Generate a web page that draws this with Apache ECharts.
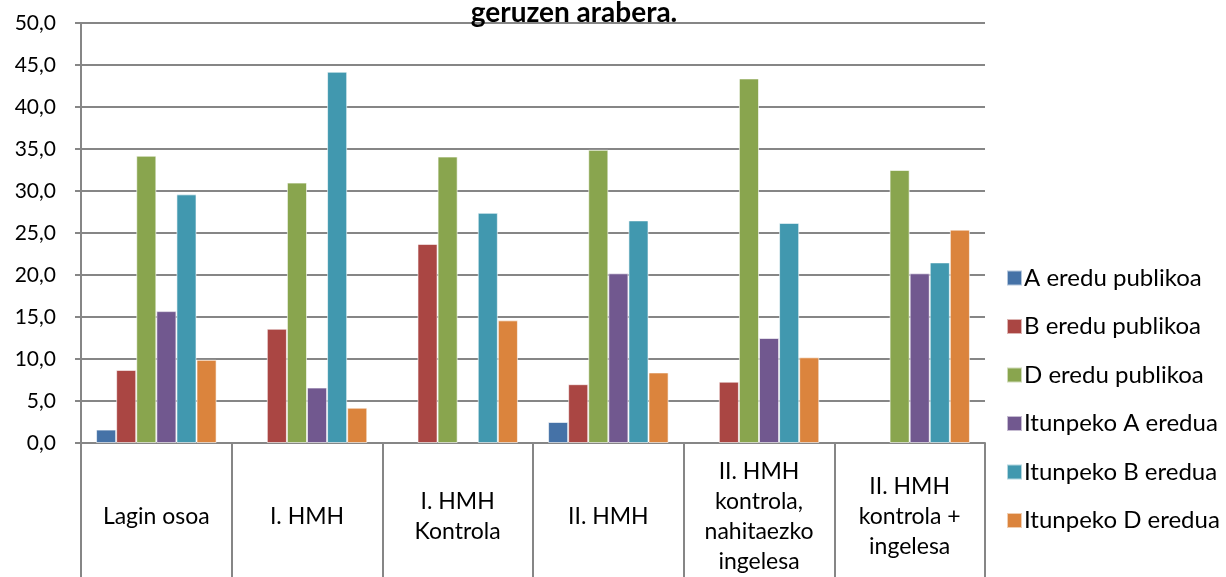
<!DOCTYPE html>
<html>
<head>
<meta charset="utf-8">
<script src="https://cdn.jsdelivr.net/npm/echarts@6/dist/echarts.min.js"></script>
<style>
  html, body { margin: 0; padding: 0; background: #fff; }
  #chart { width: 1226px; height: 577px; }
</style>
</head>
<body>
<div id="chart"></div>
<script>
const categories = [
  'Lagin osoa',
  'I. HMH',
  'I. HMH\nKontrola',
  'II. HMH',
  'II. HMH\nkontrola,\nnahitaezko\ningelesa',
  'II. HMH\nkontrola +\ningelesa'
];
const seriesNames = [
  'A eredu publikoa',
  'B eredu publikoa',
  'D eredu publikoa',
  'Itunpeko A eredua',
  'Itunpeko B eredua',
  'Itunpeko D eredua'
];
const aPublic = [1.6, 0, 0, 2.5, 0, 0];
const bPublic = [8.7, 13.6, 23.7, 7.0, 7.3, 0];
const dPublic = [34.2, 31.0, 34.1, 34.9, 43.4, 32.5];
const itunA = [15.7, 6.6, 0, 20.2, 12.5, 20.2];
const itunB = [29.6, 44.2, 27.4, 26.5, 26.2, 21.5];
const itunD = [9.9, 4.2, 14.6, 8.4, 10.2, 25.4];

const colors = ['#4572A7', '#AA4643', '#89A54E', '#71588F', '#4198AF', '#DB843D'];
const font = 'Lato, "Noto Sans", sans-serif';

const chart = echarts.init(document.getElementById('chart'));

const seriesData = [aPublic, bPublic, dPublic, itunA, itunB, itunD];

const option = {
  color: colors,
  animation: false,
  title: {
    text: 'geruzen arabera.',
    left: 569,
    textAlign: 'center',
    top: -6,
    textStyle: { fontFamily: font, fontSize: 28, fontWeight: 'bold', color: '#000' }
  },
  legend: {
    orient: 'vertical',
    left: 1001,
    top: 261,
    icon: 'rect',
    itemWidth: 15,
    itemHeight: 15,
    itemGap: 24.5,
    textStyle: { fontFamily: font, fontSize: 24, color: '#000', lineHeight: 24, padding: [0, 0, 0, -3] },
    data: seriesNames
  },
  grid: {
    left: 81,
    right: 241,
    top: 23,
    bottom: 128,
    containLabel: false
  },
  xAxis: {
    type: 'category',
    data: categories,
    axisLine: { lineStyle: { color: '#868686', width: 2 } },
    axisTick: { show: true, length: 135, lineStyle: { color: '#868686', width: 2 } },
    axisLabel: {
      interval: 0,
      margin: 74,
      verticalAlign: 'middle',
      fontFamily: font,
      fontSize: 23,
      lineHeight: 30,
      color: '#000'
    }
  },
  yAxis: {
    type: 'value',
    min: 0,
    max: 50,
    interval: 5,
    axisLine: { show: true, lineStyle: { color: '#868686', width: 2 } },
    axisTick: { show: true, length: 6, lineStyle: { color: '#868686', width: 2 } },
    splitLine: { lineStyle: { color: '#868686', width: 2 } },
    axisLabel: {
      margin: 25,
      fontFamily: font,
      fontSize: 21,
      color: '#000',
      formatter: v => v.toFixed(1).replace('.', ',')
    }
  },
  series: seriesNames.map((name, i) => ({
    name: name,
    type: 'bar',
    // zero values are blank cells in the source, so draw nothing for them
    data: seriesData[i].map(v => (v === 0 ? '-' : v)),
    barGap: '0%',
    barCategoryGap: '20%',
    itemStyle: { borderColor: 'rgba(255,255,255,0.6)', borderWidth: 1 }
  }))
};

chart.setOption(option);
</script>
</body>
</html>
